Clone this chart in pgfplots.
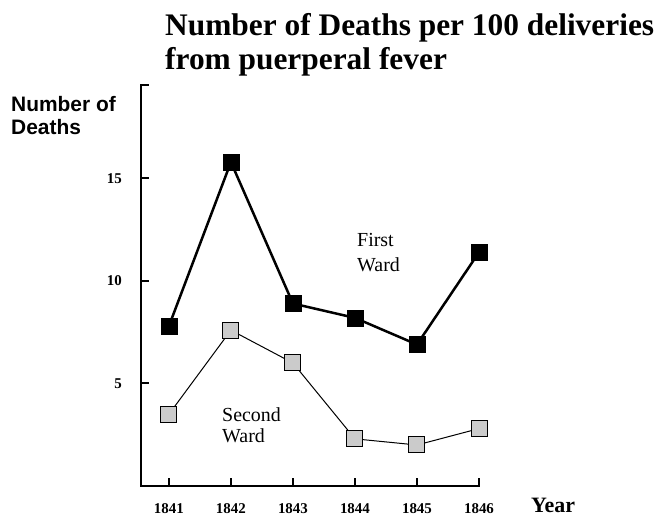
\documentclass[border=0pt]{standalone}
\usepackage{fontspec}
\setmainfont{Liberation Serif}
\newfontfamily\arial{Liberation Sans}
\usepackage{pgfplots}
\pgfplotsset{compat=1.18}
\definecolor{ltgray}{HTML}{CBCBCB}
\begin{document}
\begin{tikzpicture}
\useasboundingbox (0,0) rectangle (668bp,517bp);
\begin{axis}[
  at={(141bp,31bp)}, anchor=south west,
  scale only axis, width=338bp, height=401bp,
  xmin=1840.55, xmax=1846, ymin=0, ymax=19.56,
  axis x line=bottom, axis y line=left,
  axis line style={-, line width=2.5bp, line cap=rect},
  clip=false,
  xtick={1841,1842,1843,1844,1845,1846},
  xticklabels={1841,1842,1843,1844,1845,1846},
  ytick={5,10,15,19.56},
  yticklabels={5,10,15,{}},
  tick align=inside,
  major tick length=8bp,
  tick style={black, line width=2bp},
  /pgf/number format/assume math mode=true,
  xticklabel style={font=\fontsize{15}{15}\selectfont\bfseries, anchor=base, inner sep=0pt, yshift=-27.5bp},
  yticklabel style={font=\fontsize{15}{15}\selectfont\bfseries, anchor=east, inner sep=0pt, xshift=-19bp},
]
\addplot[black, line width=2.5bp, mark=square*, mark size=8bp, mark options={solid, fill=black, line width=0.5bp}]
  coordinates {(1841,7.8) (1842,15.8) (1843,8.9) (1844,8.2) (1845,6.9) (1846,11.4)};
\addplot[black, line width=1bp, mark=square*, mark size=8bp, mark options={solid, fill=ltgray, draw=black, line width=1bp}]
  coordinates {(1841,3.5) (1842,7.6) (1843,6.0) (1844,2.3) (1845,2.0) (1846,2.8)};
\end{axis}
\node[anchor=base west, inner sep=0pt, font=\fontsize{31.5}{31.5}\selectfont\bfseries] at (165bp,481bp) {Number of Deaths per 100 deliveries};
\node[anchor=base west, inner sep=0pt, font=\fontsize{31.5}{31.5}\selectfont\bfseries] at (165bp,447bp) {from puerperal fever};
\node[anchor=base west, inner sep=0pt, font=\fontsize{21}{21}\selectfont\arial\bfseries] at (11bp,405bp) {Number of};
\node[anchor=base west, inner sep=0pt, font=\fontsize{21}{21}\selectfont\arial\bfseries] at (11bp,382bp) {Deaths};
\node[anchor=base west, inner sep=0pt, font=\fontsize{22}{22}\selectfont\bfseries] at (531bp,5bp) {Year};
\node[anchor=base west, inner sep=0pt, font=\fontsize{20}{20}\selectfont] at (357bp,270bp) {First};
\node[anchor=base west, inner sep=0pt, font=\fontsize{20}{20}\selectfont] at (357bp,245bp) {Ward};
\node[anchor=base west, inner sep=0pt, font=\fontsize{20}{20}\selectfont] at (222bp,95bp) {Second};
\node[anchor=base west, inner sep=0pt, font=\fontsize{20}{20}\selectfont] at (222bp,74bp) {Ward};
\end{tikzpicture}
\end{document}
